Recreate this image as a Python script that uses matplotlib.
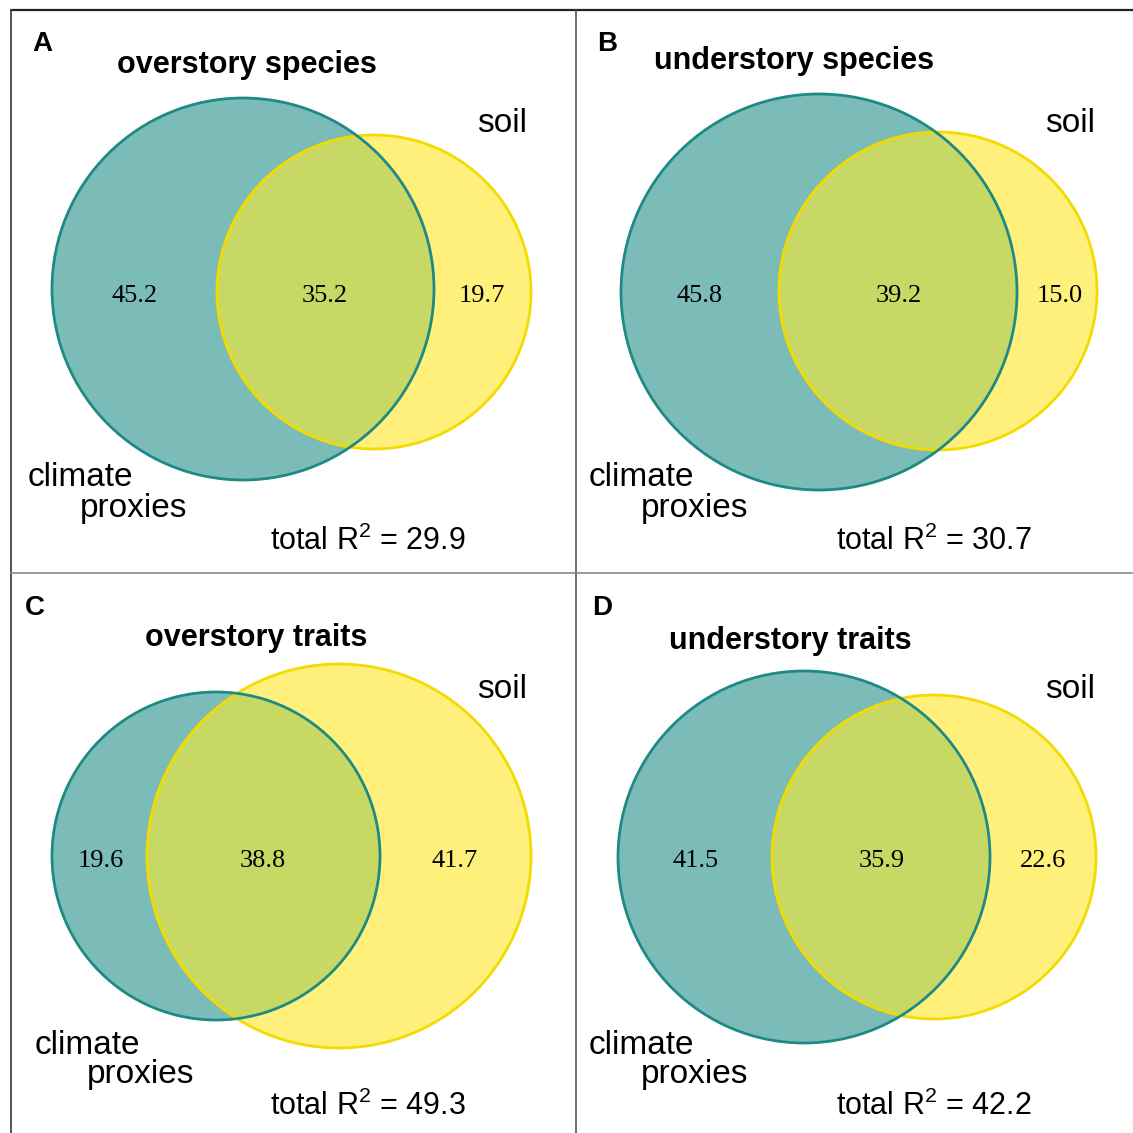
import matplotlib
matplotlib.use("Agg")
import matplotlib.pyplot as plt
from matplotlib.patches import Circle

plt.rcParams.update({
    "font.family": "Liberation Sans",
    "mathtext.fontset": "custom",
    "mathtext.rm": "Liberation Sans",
    "mathtext.it": "Liberation Sans",
})

# variance partitioning (% of explained variance) per panel
panel_letters = ["A", "B", "C", "D"]
panel_titles = ["overstory species", "understory species", "overstory traits", "understory traits"]
climate_only = [45.2, 45.8, 19.6, 41.5]
shared = [35.2, 39.2, 38.8, 35.9]
soil_only = [19.7, 15.0, 41.7, 22.6]
total_r2 = [29.9, 30.7, 49.3, 42.2]

# circle geometry in pixel space: (cx, cy, r) for climate and soil
climate_circles = [(243, 289, 191), (819, 292, 198), (216, 856, 164), (804, 857, 186)]
soil_circles = [(374, 292, 157), (938, 291, 159), (339, 856, 192), (934, 857, 162)]

TEAL_FILL = "#7bbcb9"
TEAL_EDGE = "#1e8a85"
YELLOW_FILL = "#fff07b"
YELLOW_EDGE = "#f3db00"
OVERLAP_FILL = "#c8d865"

W = 1133
fig = plt.figure(figsize=(W / 100, W / 100), dpi=100)
ax = fig.add_axes([0, 0, 1, 1])
ax.set_xlim(0, W)
ax.set_ylim(W, 0)
ax.axis("off")

# panel frame
ax.plot([10, W], [10, 10], color="#222222", lw=1.6, solid_capstyle="butt")
ax.plot([11, 11], [10, W], color="#444444", lw=1.3)
ax.plot([576, 576], [10, W], color="#555555", lw=1.2)
ax.plot([11, W], [573, 573], color="#8a8a8a", lw=1.2)

letter_xy = [(42, 44), (607, 44), (35, 608), (602, 608)]
title_xy = [(247, 65), (794, 61), (256, 638), (790, 641)]
num_x = [(135, 325, 482), (700, 899, 1060), (101, 263, 455), (696, 882, 1043)]
num_y = [296, 296, 861, 861]
soil_xy = [(502, 124), (1070, 124), (502, 689), (1070, 689)]
clim_xy = [(28, 478), (589, 478), (35, 1045), (589, 1045)]
total_xy = [(270, 541), (836, 541), (270, 1106), (836, 1106)]

for i in range(4):
    cc = climate_circles[i]
    sc = soil_circles[i]
    ax.add_patch(Circle(cc[:2], cc[2], facecolor=TEAL_FILL, edgecolor="none", zorder=1))
    ax.add_patch(Circle(sc[:2], sc[2], facecolor=YELLOW_FILL, edgecolor="none", zorder=1))
    # overlap region: soil disc clipped to the climate disc
    ov = Circle(sc[:2], sc[2], facecolor=OVERLAP_FILL, edgecolor="none", zorder=2)
    ax.add_patch(ov)
    ov.set_clip_path(Circle(cc[:2], cc[2], transform=ax.transData))
    ax.add_patch(Circle(sc[:2], sc[2], facecolor="none", edgecolor=YELLOW_EDGE, lw=2.0, zorder=3))
    ax.add_patch(Circle(cc[:2], cc[2], facecolor="none", edgecolor=TEAL_EDGE, lw=2.0, zorder=4))

    ax.text(*letter_xy[i], panel_letters[i], fontsize=20, fontweight="bold", ha="center", va="center")
    ax.text(*title_xy[i], panel_titles[i], fontsize=22, fontweight="bold", ha="center", va="center")

    vals = [climate_only[i], shared[i], soil_only[i]]
    for x, v in zip(num_x[i], vals):
        ax.text(x, num_y[i], f"{v:.1f}", fontsize=19, family="Liberation Serif",
                ha="center", va="center", zorder=5)

    ax.text(*soil_xy[i], "soil", fontsize=24, ha="center", va="center")
    cx, cy = clim_xy[i]
    ax.text(cx, cy, "climate", fontsize=24, ha="left", va="center")
    ax.text(cx + 52, cy + 30, "proxies", fontsize=24, ha="left", va="center")
    ax.text(*total_xy[i], f"total R$^2$ = {total_r2[i]:.1f}", fontsize=22,
            ha="left", va="center")

fig.savefig("out.png", dpi=100, facecolor="white")
